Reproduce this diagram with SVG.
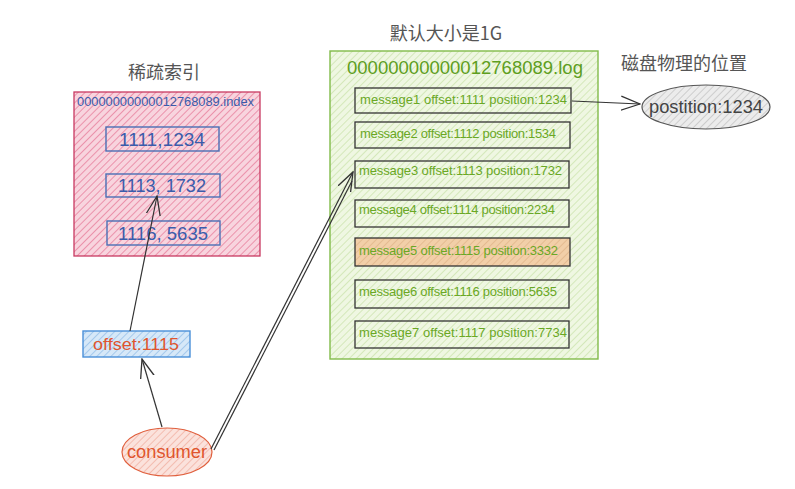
<svg xmlns="http://www.w3.org/2000/svg" width="795" height="489" viewBox="0 0 795 489">
<defs>
<pattern id="hPink" width="5" height="5" patternUnits="userSpaceOnUse" patternTransform="rotate(45)">
<rect width="5" height="5" fill="#f8d4de"/>
<line x1="0" y1="0" x2="0" y2="5" stroke="#e77c9a" stroke-width="1.5"/>
</pattern>
<pattern id="hGreen" width="5" height="5" patternUnits="userSpaceOnUse" patternTransform="rotate(45)">
<rect width="5" height="5" fill="#eff7e2"/>
<line x1="0" y1="0" x2="0" y2="5" stroke="#c3dea0" stroke-width="1.2"/>
</pattern>
<pattern id="hTan" width="5" height="5" patternUnits="userSpaceOnUse" patternTransform="rotate(45)">
<rect width="5" height="5" fill="#f2cfa8"/>
<line x1="0" y1="0" x2="0" y2="5" stroke="#dcae82" stroke-width="1.2"/>
</pattern>
<pattern id="hBlue" width="5" height="5" patternUnits="userSpaceOnUse" patternTransform="rotate(45)">
<rect width="5" height="5" fill="#d6e8f8"/>
<line x1="0" y1="0" x2="0" y2="5" stroke="#8ab8e6" stroke-width="1.3"/>
</pattern>
<pattern id="hGray" width="5" height="5" patternUnits="userSpaceOnUse" patternTransform="rotate(45)">
<rect width="5" height="5" fill="#ececec"/>
<line x1="0" y1="0" x2="0" y2="5" stroke="#b8b8b8" stroke-width="1.2"/>
</pattern>
<pattern id="hRed" width="5" height="5" patternUnits="userSpaceOnUse" patternTransform="rotate(45)">
<rect width="5" height="5" fill="#fbe2dc"/>
<line x1="0" y1="0" x2="0" y2="5" stroke="#f0a898" stroke-width="1.3"/>
</pattern>
<marker id="arrBig" viewBox="0 0 20 20" refX="19" refY="10" markerWidth="20" markerHeight="20" markerUnits="userSpaceOnUse" orient="auto">
<path d="M0,3 L19,10 L0,17" fill="none" stroke="#333" stroke-width="1.3"/>
</marker>
</defs>
<style>
.title{font-family:"Noto Sans CJK SC","Liberation Sans",sans-serif;font-size:18px;fill:#555;text-anchor:middle}
.idx{font-family:"Liberation Sans",Arial,sans-serif;fill:#3a5cab}
.msgbox{stroke:#333;stroke-width:1.3}
.msg{font-family:"Liberation Sans",Arial,sans-serif;font-size:13px;fill:#6aa825}
.conn{fill:none;stroke:#333;stroke-width:1.2}
</style>
<rect width="795" height="489" fill="#ffffff"/>

<g id="index-title"><text class="title" x="164" y="79">稀疏索引</text></g>
<g id="index-file">
<rect x="74" y="92" width="186" height="164" fill="url(#hPink)" stroke="#c83a62" stroke-width="1.3"/>
<text class="idx" x="77" y="106" font-size="12.5" textLength="177" lengthAdjust="spacingAndGlyphs">00000000000012768089.index</text>
</g>
<g id="idx1"><rect x="106" y="127" width="113" height="24" fill="none" stroke="#4a6fb5" stroke-width="1.4"/><text class="idx" x="162" y="146" font-size="18" text-anchor="middle" textLength="86" lengthAdjust="spacingAndGlyphs">1111,1234</text></g>
<g id="idx2"><rect x="106" y="174" width="114" height="23" fill="none" stroke="#4a6fb5" stroke-width="1.4"/><text class="idx" x="162" y="192" font-size="18" text-anchor="middle" textLength="88" lengthAdjust="spacingAndGlyphs">1113, 1732</text></g>
<g id="idx3"><rect x="107" y="221" width="113" height="24" fill="none" stroke="#4a6fb5" stroke-width="1.4"/><text class="idx" x="163" y="240" font-size="18" text-anchor="middle" textLength="90" lengthAdjust="spacingAndGlyphs">1116, 5635</text></g>

<g id="log-title"><text class="title" x="446" y="40">默认大小是1G</text></g>
<g id="log-file">
<rect x="330" y="51" width="268" height="308" fill="url(#hGreen)" stroke="#82bb4a" stroke-width="1.4"/>
<text x="465" y="74" font-family="Liberation Sans, Arial, sans-serif" font-size="18" fill="#5e9e1e" text-anchor="middle" textLength="236" lengthAdjust="spacingAndGlyphs">00000000000012768089.log</text>
</g>
<g id="msg1"><rect class="msgbox" x="355" y="88" width="216" height="25" fill="none"/><text class="msg" x="360" y="104" textLength="207">message1 offset:1111 position:1234</text></g>
<g id="msg2"><rect class="msgbox" x="355" y="122" width="215" height="26" fill="none"/><text class="msg" x="360" y="138" textLength="196">message2 offset:1112 position:1534</text></g>
<g id="msg3"><rect class="msgbox" x="355" y="161" width="214" height="27" fill="none"/><text class="msg" x="359" y="175" textLength="203">message3 offset:1113 position:1732</text></g>
<g id="msg4"><rect class="msgbox" x="355" y="200" width="214" height="27" fill="none"/><text class="msg" x="359" y="214" textLength="196">message4 offset:1114 position:2234</text></g>
<g id="msg5"><rect class="msgbox" x="355" y="238" width="215" height="28" fill="url(#hTan)"/><text class="msg" x="359" y="255" textLength="199">message5 offset:1115 position:3332</text></g>
<g id="msg6"><rect class="msgbox" x="355" y="280" width="214" height="28" fill="none"/><text class="msg" x="359" y="296" textLength="198">message6 offset:1116 position:5635</text></g>
<g id="msg7"><rect class="msgbox" x="355" y="321" width="214" height="27" fill="none"/><text class="msg" x="359" y="337" textLength="208">message7 offset:1117 position:7734</text></g>

<g id="disk-title"><text class="title" x="684" y="70">磁盘物理的位置</text></g>
<g id="position">
<ellipse cx="706" cy="107" rx="64" ry="22" fill="url(#hGray)" stroke="#555" stroke-width="1.2"/>
<text x="706" y="113" font-family="Liberation Sans, Arial, sans-serif" font-size="18" fill="#444" text-anchor="middle" textLength="114" lengthAdjust="spacingAndGlyphs">postition:1234</text>
</g>

<g id="offset">
<rect x="83" y="331" width="107" height="26" fill="url(#hBlue)" stroke="#4a90d9" stroke-width="1.4"/>
<text x="136" y="350" font-family="Liberation Sans, Arial, sans-serif" font-size="17" fill="#e0552e" text-anchor="middle" textLength="86" lengthAdjust="spacingAndGlyphs">offset:1115</text>
</g>
<g id="consumer">
<ellipse cx="167" cy="452" rx="45" ry="24" fill="url(#hRed)" stroke="#e0603e" stroke-width="1.2"/>
<text x="167" y="458" font-family="Liberation Sans, Arial, sans-serif" font-size="18" fill="#e0552e" text-anchor="middle" textLength="80" lengthAdjust="spacingAndGlyphs">consumer</text>
</g>

<g id="connectors">
<line class="conn" x1="572" y1="101" x2="640" y2="104" marker-end="url(#arrBig)"/>
<line class="conn" x1="162" y1="427" x2="142" y2="359" marker-end="url(#arrBig)"/>
<line class="conn" x1="130" y1="331" x2="157" y2="196" marker-end="url(#arrBig)"/>
<line class="conn" x1="211" y1="449" x2="353" y2="172" marker-end="url(#arrBig)"/>
<line class="conn" x1="214" y1="450" x2="352" y2="181" stroke-width="0.9"/>
</g>
</svg>
